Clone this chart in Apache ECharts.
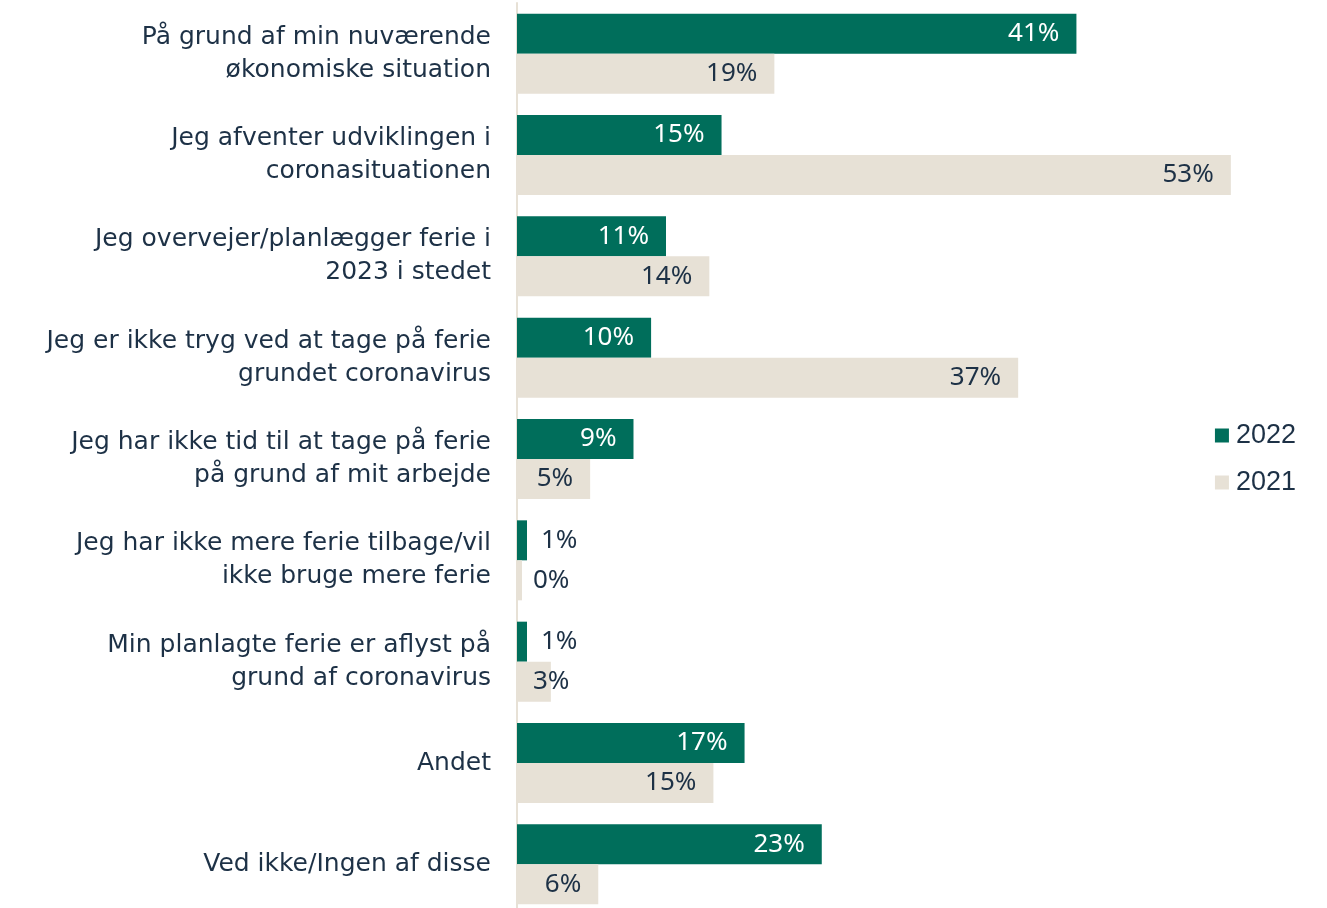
<!DOCTYPE html>
<html>
<head>
<meta charset="utf-8">
<script src="https://cdn.jsdelivr.net/npm/echarts@6/dist/echarts.min.js"></script>
<style>html,body{margin:0;padding:0;background:#fff;overflow:hidden;}#c{width:1327px;height:916px;}</style>
</head>
<body>
<div id="c"></div>
<script>
const categories = [
  "På grund af min nuværende\nøkonomiske situation",
  "Jeg afventer udviklingen i\ncoronasituationen",
  "Jeg overvejer/planlægger ferie i\n2023 i stedet",
  "Jeg er ikke tryg ved at tage på ferie\ngrundet coronavirus",
  "Jeg har ikke tid til at tage på ferie\npå grund af mit arbejde",
  "Jeg har ikke mere ferie tilbage/vil\nikke bruge mere ferie",
  "Min planlagte ferie er aflyst på\ngrund af coronavirus",
  "Andet",
  "Ved ikke/Ingen af disse"
];
const values2022 = [41.3, 15.1, 11.0, 9.9, 8.6, 0.74, 0.74, 16.8, 22.5];
const values2021 = [19.0, 52.7, 14.2, 37.0, 5.4, 0.37, 2.5, 14.5, 6.0];
const seriesNames = ["2022", "2021"];

const GREEN = "#006e5b", BEIGE = "#e7e1d6", TEXT = "#1d3146";
const FONT = "Noto Sans";
const CAT_FONT = "DejaVu Sans";

function mkData(vals, insideColor, smallDist) {
  return vals.map(v => {
    const small = v < 4;
    return {
      value: v,
      label: small ? {position: "insideLeft", distance: smallDist, color: TEXT}
                   : {position: "insideRight", distance: 17, color: insideColor}
    };
  });
}

const chart = echarts.init(document.getElementById("c"));
chart.setOption({
  animation: false,
  textStyle: {fontFamily: FONT},
  grid: {left: 517, right: 65, top: 3, bottom: 1, containLabel: false},
  legend: {
    orient: "vertical", right: 26, top: 417, itemWidth: 14, itemHeight: 14, itemGap: 20,
    icon: "rect",
    textStyle: {fontFamily: "Liberation Sans", fontSize: 27, color: TEXT, padding: [0,0,0,2]},
    data: seriesNames
  },
  xAxis: {type: "value", min: 0, max: 55, show: false},
  yAxis: {
    type: "category", data: categories, inverse: true,
    axisTick: {show: false},
    axisLine: {show: true, lineStyle: {color: BEIGE, width: 2}},
    axisLabel: {margin: 26, fontFamily: CAT_FONT, fontSize: 25, lineHeight: 33, color: TEXT, align: "right"}
  },
  series: [
    {
      name: seriesNames[0], type: "bar", barWidth: 40, barGap: "0%",
      itemStyle: {color: GREEN},
      label: {show: true, fontFamily: FONT, fontSize: 26, formatter: p => Math.round(p.value) + "%"},
      data: mkData(values2022, "#ffffff", 24)
    },
    {
      name: seriesNames[1], type: "bar", barWidth: 40, barGap: "0%",
      itemStyle: {color: BEIGE},
      label: {show: true, fontFamily: FONT, fontSize: 26, formatter: p => Math.round(p.value) + "%"},
      data: mkData(values2021, TEXT, 16)
    }
  ]
});
</script>
</body>
</html>
